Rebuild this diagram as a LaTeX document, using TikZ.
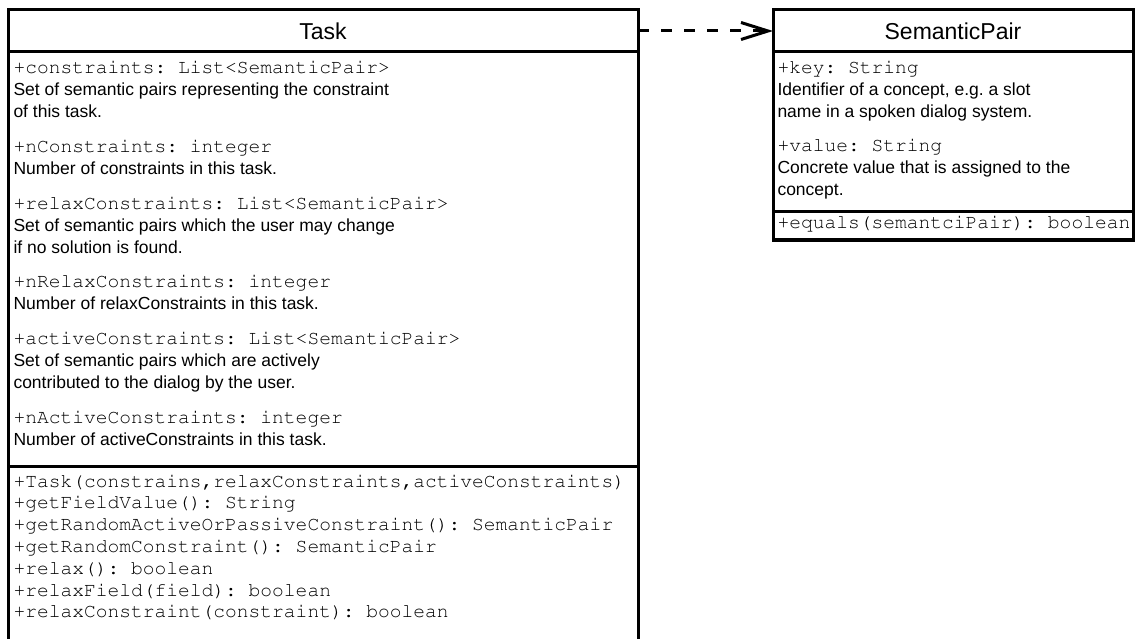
\documentclass[tikz,border=0pt]{standalone}
\usepackage{fontspec}
\setmainfont{Liberation Sans}
\usetikzlibrary{positioning, arrows.meta}
\tikzset{every picture/.style={line width=3pt}}
\newcommand{\courier}{\fontencoding{T1}\fontfamily{pcr}\fontseries{m}\fontshape{n}}
\tikzset{
  umlbox/.style={draw, line width=3pt, inner sep=0pt, outer sep=0pt},
  umltitle/.style={font=\fontsize{23}{26}\selectfont, inner sep=0pt},
  attr/.style={font=\courier\fontsize{19.6}{22}\selectfont\frenchspacing, text=black, inner sep=0pt, anchor=base west},
  descr/.style={font=\fontsize{17.5}{22}\selectfont, inner sep=0pt, anchor=base west},
  dep/.style={dash pattern=on 11pt off 12pt, -{Straight Barb[length=27pt,width=17pt]}}
}

\begin{document}
\begin{tikzpicture}[x=1pt,y=1pt]
  \useasboundingbox (0,0) rectangle (1135,-639);

  % class boxes
  \node[umlbox, minimum width=630pt, minimum height=42pt, anchor=north west] (taskhead) at (8,-10) {};
  \node[umlbox, minimum width=630pt, minimum height=414pt, below=0pt of taskhead] (taskattr) {};
  \node[umlbox, minimum width=630pt, minimum height=176pt, below=0pt of taskattr] (taskops) {};
  \node[umltitle] (tasktitle) at (taskhead) {Task};

  \node[umlbox, minimum width=360pt, minimum height=42pt, anchor=north west] (pairhead) at (773,-10) {};
  \node[umlbox, minimum width=360pt, minimum height=160pt, below=0pt of pairhead] (pairattr) {};
  \node[umlbox, minimum width=360pt, minimum height=28pt, below=0pt of pairattr] (pairops) {};
  \node[umltitle] (pairtitle) at (pairhead) {SemanticPair};

  % Task attributes
  \node[attr] (ta1) at (12,-73.5) {+constraints: List<SemanticPair>};
  \node[descr] (td1a) at ([yshift=-22pt]ta1.base west) {Set of semantic pairs representing the constraint};
  \node[descr] (td1b) at ([yshift=-22pt]td1a.base west) {of this task.};
  \node[attr] (ta2) at ([yshift=-34.8pt]td1b.base west) {+nConstraints: integer};
  \node[descr] (td2a) at ([yshift=-22pt]ta2.base west) {Number of constraints in this task.};
  \node[attr] (ta3) at ([yshift=-34.8pt]td2a.base west) {+relaxConstraints: List<SemanticPair>};
  \node[descr] (td3a) at ([yshift=-22pt]ta3.base west) {Set of semantic pairs which the user may change};
  \node[descr] (td3b) at ([yshift=-22pt]td3a.base west) {if no solution is found.};
  \node[attr] (ta4) at ([yshift=-34.8pt]td3b.base west) {+nRelaxConstraints: integer};
  \node[descr] (td4a) at ([yshift=-22pt]ta4.base west) {Number of relaxConstraints in this task.};
  \node[attr] (ta5) at ([yshift=-34.8pt]td4a.base west) {+activeConstraints: List<SemanticPair>};
  \node[descr] (td5a) at ([yshift=-22pt]ta5.base west) {Set of semantic pairs which are actively};
  \node[descr] (td5b) at ([yshift=-22pt]td5a.base west) {contributed to the dialog by the user.};
  \node[attr] (ta6) at ([yshift=-34.8pt]td5b.base west) {+nActiveConstraints: integer};
  \node[descr] (td6a) at ([yshift=-22pt]ta6.base west) {Number of activeConstraints in this task.};

  % Task operations
  \foreach \op [count=\i] in {{+Task(constrains,relaxConstraints,activeConstraints)},
      {+getFieldValue(): String},
      {+getRandomActiveOrPassiveConstraint(): SemanticPair},
      {+getRandomConstraint(): SemanticPair},
      {+relax(): boolean},
      {+relaxField(field): boolean},
      {+relaxConstraint(constraint): boolean}}
    \node[attr] (to\i) at (12,{-487-21.8*(\i-1)}) {\op};

  % SemanticPair members
  \node[attr] (pa1) at (776,-73.5) {+key: String};
  \node[descr] (pd1a) at ([yshift=-22pt]pa1.base west) {Identifier of a concept, e.g.\ a slot};
  \node[descr] (pd1b) at ([yshift=-22pt]pd1a.base west) {name in a spoken dialog system.};
  \node[attr] (pa2) at ([yshift=-34pt]pd1b.base west) {+value: String};
  \node[descr] (pd2a) at ([yshift=-22pt]pa2.base west) {Concrete value that is assigned to the};
  \node[descr] (pd2b) at ([yshift=-22pt]pd2a.base west) {concept.};
  \node[attr] (po1) at (776,-229) {+equals(semantciPair): boolean};

  % dependency
  \draw[dep] (taskhead.east) -- (pairhead.west);
\end{tikzpicture}
\end{document}
